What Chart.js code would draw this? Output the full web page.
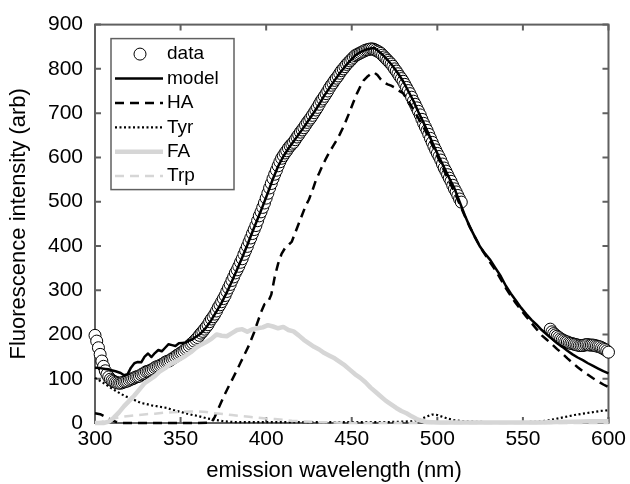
<!DOCTYPE html>
<html><head><meta charset="utf-8">
<script src="https://cdn.jsdelivr.net/npm/chart.js@4/dist/chart.umd.min.js"></script>
<style>html,body{margin:0;padding:0;background:#fff}#wrap{width:630px;height:484px}</style>
</head><body><div id="wrap"><canvas id="c" width="630" height="484"></canvas></div>
<script>
const xTicks = [300,350,400,450,500,550,600];
const yTicks = [0,100,200,300,400,500,600,700,800,900];
const legendOrder = ['data','model','HA','Tyr','FA','Trp'];
const xTitle = 'emission wavelength (nm)';
const yTitle = 'Fluorescence intensity (arb)';

const dataWl = [300,301,302,303,304,305,306,307,308,309,310,311,312,313,314,315,316,317,318,319,320,321,322,323,324,325,326,327,328,329,330,331,332,333,334,335,336,337,338,339,340,341,342,343,344,345,346,347,348,349,350,351,352,353,354,355,356,357,358,359,360,361,362,363,364,365,366,367,368,369,370,371,372,373,374,375,376,377,378,379,380,381,382,383,384,385,386,387,388,389,390,391,392,393,394,395,396,397,398,399,400,401,402,403,404,405,406,407,408,409,410,411,412,413,414,415,416,417,418,419,420,421,422,423,424,425,426,427,428,429,430,431,432,433,434,435,436,437,438,439,440,441,442,443,444,445,446,447,448,449,450,451,452,453,454,455,456,457,458,459,460,461,462,463,464,465,466,467,468,469,470,471,472,473,474,475,476,477,478,479,480,481,482,483,484,485,486,487,488,489,490,491,492,493,494,495,496,497,498,499,500,501,502,503,504,505,506,507,508,509,510,511,512,513,514,
566,567,568,569,570,571,572,573,574,575,576,577,578,579,580,581,582,583,584,585,586,587,588,589,590,591,592,593,594,595,596,597,598,599,600];
const dataVal = [198,185,170,155,140,128,118,110,104,99,96,94,92,91,90,90,91,93,94,95,97,99,100,102,104,105,106,109,111,113,116,117,118,120,122,125,127,128,130,132,134,137,139,140,142,145,147,150,153,155,158,160,163,167,170,174,178,181,185,189,193,198,203,207,212,217,222,229,235,240,246,253,261,267,274,281,288,297,305,313,322,330,339,346,354,363,371,381,390,399,409,418,428,437,446,457,468,477,487,497,508,519,531,541,552,562,571,581,590,598,604,610,615,621,626,630,634,640,646,651,657,662,667,673,679,684,689,695,701,707,713,720,727,732,738,744,750,757,763,768,774,779,784,790,796,800,805,810,814,818,822,826,830,832,834,836,838,840,842,843,844,845,845,844,842,840,838,835,831,827,823,819,815,811,806,800,795,789,783,778,772,765,758,751,744,736,727,720,712,704,696,686,677,669,661,652,643,634,625,617,609,602,594,585,576,569,561,553,546,537,529,522,514,506,499,
212,206,202,199,196,193,190,188,186,184,183,181,180,179,178,177,176,175,175,175,176,177,177,176,176,176,175,174,173,172,170,168,166,163,160];

const modelWl = [300,303,306,309,312,315,317,319,321,323,325,327,329,331,333,335,337,339,341,343,345,347,349,351,353,355,357,359,361,363,365,368,371,374,377,380,383,386,389,392,395,398,401,404,407,410,413,416,419,422,425,428,431,434,437,440,443,446,449,452,455,458,461,463,465,468,471,474,477,480,483,486,489,492,495,498,501,504,507,510,513,516,519,522,525,528,531,534,537,540,543,546,549,552,555,558,561,564,567,570,573,576,579,582,585,588,591,594,597,600];
const modelVal = [125,124,122,120,117,113,108,110,125,135,138,137,150,157,149,158,165,162,170,178,176,174,180,181,182,186,189,195,200,207,216,233,252,272,295,320,347,374,402,432,461,490,520,552,580,602,620,636,652,668,685,702,720,740,757,774,790,805,818,830,838,843,846,847,842,832,820,806,790,772,750,728,702,678,652,626,601,577,553,530,500,470,443,420,398,382,368,350,332,310,292,276,260,246,233,222,210,200,190,180,172,163,155,148,142,135,129,123,117,112];

const haWl = [300,303,306,309,312,315,320,330,340,350,360,368,370,372,375,378,380,383,385,388,390,393,395,397,399,401,403,405,407,409,411,413,415,417,419,421,423,425,427,429,431,433,435,437,439,441,443,445,447,449,451,453,455,457,459,461,463,465,467,469,471,473,475,477,480,483,486,489,492,495,498,501,504,507,510,513,516,519,522,525,528,531,534,537,540,543,546,549,552,555,558,561,564,567,570,573,576,579,582,585,588,591,594,597,600];
const haVal = [22,20,14,8,3,0,0,0,0,0,0,1,14,32,58,82,97,120,136,160,176,205,228,250,268,272,290,330,360,382,395,402,410,430,450,470,490,505,525,548,565,582,598,612,625,638,652,668,686,705,725,744,760,774,782,788,792,786,776,769,765,762,758,752,745,728,708,688,668,645,620,595,570,545,522,495,468,443,420,398,380,362,345,325,305,287,270,255,240,226,212,198,188,178,167,157,146,136,126,117,109,101,94,87,81];

const tyrWl = [300,303,306,309,312,315,318,321,324,327,330,333,336,339,342,345,348,351,354,357,360,363,366,369,372,375,378,382,390,400,410,420,430,440,450,460,470,480,485,490,494,497,500,503,506,510,515,520,530,540,550,560,565,570,575,580,585,590,595,600];
const tyrVal = [102,95,88,80,73,66,60,56,50,45,43,40,38,36,34,30,27,24,21,18,16,13,10,8,6,4,3,2,2,2,2,2,2,2,2,2,2,3,4,8,15,19,18,14,10,6,4,3,2,2,2,3,6,10,14,18,21,24,27,29];

const faWl = [300,305,308,311,314,317,320,323,326,329,332,335,338,341,344,347,350,353,356,359,362,365,368,371,374,377,380,383,386,389,392,395,398,401,404,407,410,413,416,419,422,425,428,431,434,437,440,443,446,449,452,455,458,461,464,467,470,473,476,479,482,485,488,491,494,500,520,540,560,570,580,590,600];
const faVal = [0,0,3,12,24,38,50,62,76,90,98,106,117,124,133,138,145,152,160,170,177,183,190,200,197,196,203,210,212,206,212,214,216,221,218,214,217,210,207,198,188,180,172,166,158,152,146,138,130,120,110,102,92,80,70,60,50,42,34,27,22,15,9,5,2,1,1,1,1,2,3,4,4];

const trpWl = [300,304,308,312,316,320,325,330,335,340,345,350,355,360,365,370,375,380,385,390,395,400,405,410,415,420,430,440,450,500,550,600];
const trpVal = [0,3,7,11,14,16,18,20,21,23,24,25,26,26,25,22,20,18,16,14,12,10,9,7,5,4,2,1,0,0,0,0];

const FONT = "'Liberation Sans', Arial, Helvetica, sans-serif";
const AXC = '#606060';
const toXY = (wl, v) => wl.map((x, i) => ({x: x, y: v[i]}));

const lineDs = (label, wl, val, color, width, dash) => ({
  label, data: toXY(wl, val), showLine: true, borderColor: color, borderWidth: width,
  borderDash: dash, pointRadius: 0, pointHoverRadius: 0, tension: 0, clip: false,
  borderJoinStyle: 'round'
});

const boxPlugin = {
  id: 'mbox',
  beforeDatasetsDraw(chart) {
    const c = chart.ctx, a = chart.chartArea, x = chart.scales.x, y = chart.scales.y;
    c.save();
    c.strokeStyle = AXC; c.lineWidth = 2;
    c.strokeRect(a.left, a.top, a.right - a.left, a.bottom - a.top);
    c.beginPath();
    xTicks.forEach(v => { const p = x.getPixelForValue(v);
      c.moveTo(p, a.bottom); c.lineTo(p, a.bottom - 6); c.moveTo(p, a.top); c.lineTo(p, a.top + 6); });
    yTicks.forEach(v => { const p = y.getPixelForValue(v);
      c.moveTo(a.left, p); c.lineTo(a.left + 6, p); c.moveTo(a.right, p); c.lineTo(a.right - 6, p); });
    c.stroke();
    c.restore();
  },
  afterDraw(chart) {
    const c = chart.ctx;
    c.save();
    c.fillStyle = '#000'; c.font = '22px ' + FONT;
    c.textAlign = 'center'; c.textBaseline = 'middle';
    c.fillText(xTitle, 334, 471);
    c.restore();
  }
};

const legendPlugin = {
  id: 'mlegend',
  afterDatasetsDraw(chart) {
    const c = chart.ctx, a = chart.chartArea;
    const bx = a.left + 16, by = a.top + 14, bw = 123, bh = 151;
    c.save();
    c.fillStyle = '#fff'; c.fillRect(bx, by, bw, bh);
    c.strokeStyle = AXC; c.lineWidth = 1.5; c.strokeRect(bx, by, bw, bh);
    legendOrder.forEach((lab, i) => {
      const ds = chart.data.datasets.find(d => d.label === lab);
      const yy = by + 15.5 + i * 24.4;
      if (ds.showLine === false) {
        c.beginPath(); c.setLineDash([]);
        c.arc(bx + 29, yy, 6, 0, Math.PI * 2);
        c.fillStyle = '#fff'; c.fill();
        c.strokeStyle = '#000'; c.lineWidth = 1; c.stroke();
      } else {
        c.beginPath();
        c.setLineDash(ds.borderDash || []);
        c.strokeStyle = ds.borderColor; c.lineWidth = ds.borderWidth;
        c.moveTo(bx + 4, yy); c.lineTo(bx + 52, yy); c.stroke();
        c.setLineDash([]);
      }
      c.fillStyle = '#000'; c.font = '19px ' + FONT;
      c.textAlign = 'left'; c.textBaseline = 'middle';
      c.fillText(lab, bx + 56, yy);
    });
    c.restore();
  }
};

new Chart(document.getElementById('c').getContext('2d'), {
  type: 'scatter',
  data: { datasets: [
    lineDs('Trp', trpWl, trpVal, '#d6d6d6', 2.5, [9, 6]),
    lineDs('FA', faWl, faVal, '#d6d6d6', 4.5, []),
    lineDs('Tyr', tyrWl, tyrVal, '#000', 2.2, [2, 2.5]),
    lineDs('HA', haWl, haVal, '#000', 2.5, [9, 6]),
    lineDs('model', modelWl, modelVal, '#000', 2.5, []),
    { label: 'data', data: toXY(dataWl, dataVal), showLine: false, pointRadius: 6, pointHoverRadius: 6,
      pointBorderWidth: 1, pointBorderColor: '#000', pointBackgroundColor: '#fff', clip: false }
  ]},
  options: {
    responsive: false, animation: false, devicePixelRatio: 1,
    layout: { padding: { top: 24, right: 16, left: 0, bottom: 0 } },
    plugins: { legend: { display: false }, tooltip: { enabled: false } },
    scales: {
      x: { type: 'linear', min: 300, max: 600,
        afterBuildTicks: s => { s.ticks = xTicks.map(v => ({ value: v })); },
        grid: { display: false, drawTicks: false }, border: { display: false },
        ticks: { padding: 4, color: '#000', font: { family: FONT, size: 21 }, maxRotation: 0, autoSkip: false },
        title: { display: false, text: xTitle },
        afterFit: s => { s.height = 61; } },
      y: { type: 'linear', min: 0, max: 900,
        afterBuildTicks: s => { s.ticks = yTicks.map(v => ({ value: v })); },
        grid: { display: false, drawTicks: false }, border: { display: false },
        ticks: { padding: 12, color: '#000', font: { family: FONT, size: 21 }, autoSkip: false },
        title: { display: true, text: yTitle, color: '#000', font: { family: FONT, size: 22 }, padding: { top: 6, bottom: 0 } },
        afterFit: s => { s.width = 95; } }
    }
  },
  plugins: [boxPlugin, legendPlugin]
});
</script>
</body></html>
